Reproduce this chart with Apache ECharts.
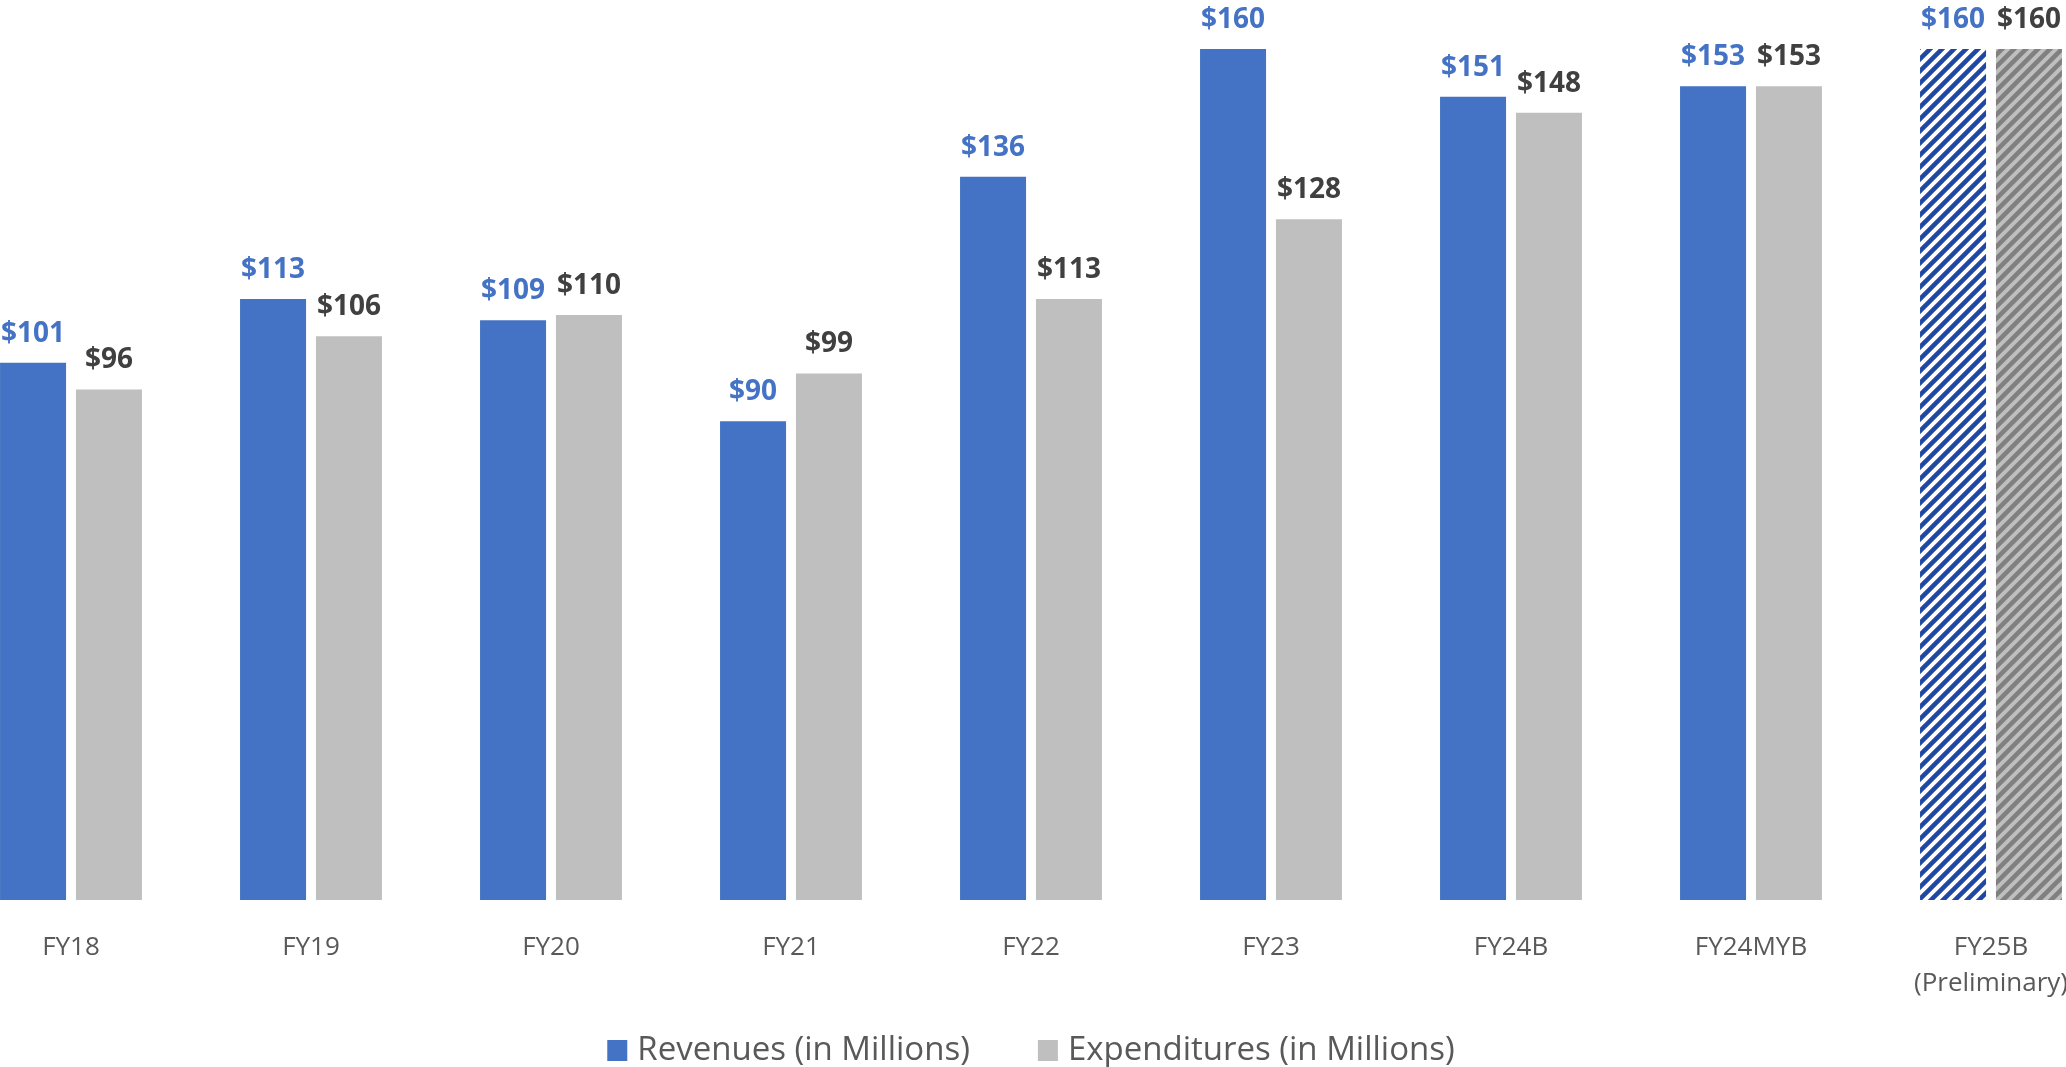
<!DOCTYPE html>
<html>
<head>
<meta charset="utf-8">
<style>
  html, body { margin: 0; padding: 0; background: #fff; overflow: hidden; }
  /* the plot runs past both edges of the window, as in the original */
  #main { width: 2160px; height: 1067px; margin-left: -49px; }
</style>
<script src="https://cdn.jsdelivr.net/npm/echarts@6/dist/echarts.min.js"></script>
</head>
<body>
<div id="main"></div>
<script>
// chart data
var categories = ['FY18', 'FY19', 'FY20', 'FY21', 'FY22', 'FY23', 'FY24B', 'FY24MYB', 'FY25B\n(Preliminary)']
var revenues = [101, 113, 109, 90, 136, 160, 151, 153, 160]
var expenditures = [96, 106, 110, 99, 113, 128, 148, 153, 160]
var seriesNames = ['Revenues (in Millions)', 'Expenditures (in Millions)']

var FONT = '"Open Sans", "Noto Sans", sans-serif'

// diagonal stripe fill for the preliminary year
function stripes(bg, fg) {
  var size = 12
  var c = document.createElement('canvas')
  c.width = size
  c.height = size
  var ctx = c.getContext('2d')
  ctx.fillStyle = bg
  ctx.fillRect(0, 0, size, size)
  ctx.strokeStyle = fg
  ctx.lineWidth = 4.5
  ctx.beginPath()
  ctx.moveTo(-2, size + 2); ctx.lineTo(size + 2, -2)
  ctx.moveTo(-size / 2 - 2, size / 2 + 2); ctx.lineTo(size / 2 + 2, -size / 2 - 2)
  ctx.moveTo(size / 2 - 2, size * 1.5 + 2); ctx.lineTo(size * 1.5 + 2, size / 2 - 2)
  ctx.stroke()
  return { image: c, repeat: 'repeat' }
}

function withPattern(values, pattern) {
  return values.map(function (v, i) {
    if (i === values.length - 1) {
      return { value: v, itemStyle: { color: pattern } }
    }
    return v
  })
}

var chart = echarts.init(document.getElementById('main'))

chart.setOption({
  animation: false,
  legend: {
    data: seriesNames,
    top: 1029,
    left: 'center',
    itemWidth: 20,
    itemHeight: 21,
    itemGap: 68,
    icon: 'rect',
    textStyle: { color: '#595959', fontSize: 33, fontFamily: FONT, padding: [0, 0, 0, 5] }
  },
  grid: {
    left: 0,
    top: 49,
    width: 2160,
    height: 851
  },
  xAxis: {
    type: 'category',
    data: categories,
    axisLine: { show: false },
    axisTick: { show: false },
    axisLabel: {
      color: '#595959',
      fontSize: 26,
      fontFamily: FONT,
      margin: 30,
      lineHeight: 36,
      interval: 0
    }
  },
  yAxis: {
    type: 'value',
    min: 0,
    max: 160,
    show: false,
    splitLine: { show: false }
  },
  series: [
    {
      name: seriesNames[0],
      type: 'bar',
      barWidth: 66,
      barGap: '15%',
      itemStyle: { color: '#4472C4' },
      label: {
        show: true,
        position: 'top',
        distance: 15,
        color: '#4472C4',
        fontWeight: 'bold',
        fontSize: 28,
        fontFamily: FONT,
        formatter: function (p) { return '$' + p.value }
      },
      data: withPattern(revenues, stripes('#ffffff', '#2047A1'))
    },
    {
      name: seriesNames[1],
      type: 'bar',
      barWidth: 66,
      itemStyle: { color: '#BFBFBF' },
      label: {
        show: true,
        position: 'top',
        distance: 15,
        color: '#404040',
        fontWeight: 'bold',
        fontSize: 28,
        fontFamily: FONT,
        formatter: function (p) { return '$' + p.value }
      },
      data: withPattern(expenditures, stripes('#BFBFBF', '#808080'))
    }
  ]
})
</script>
</body>
</html>
